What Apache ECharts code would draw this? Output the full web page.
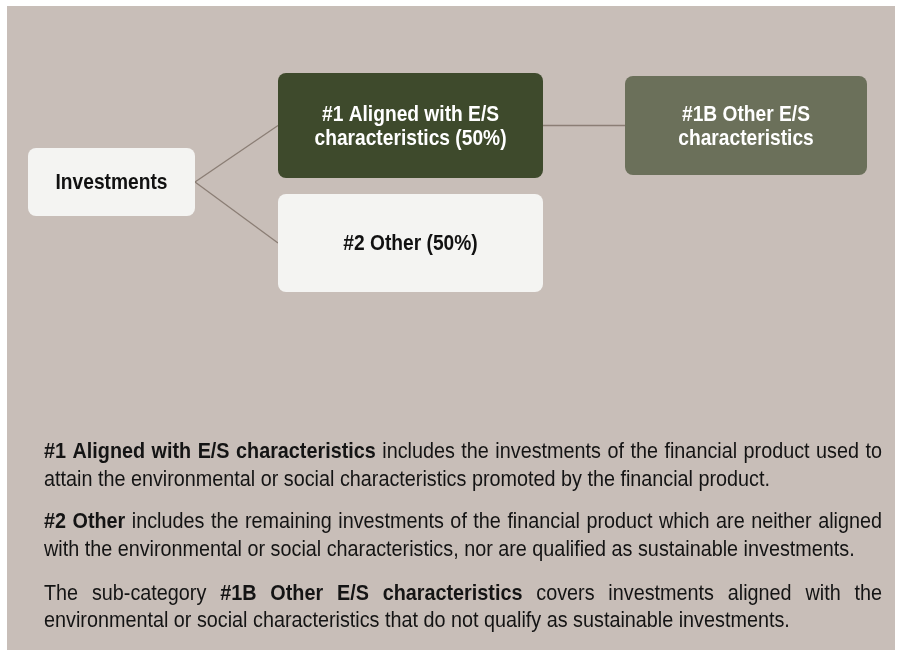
<!DOCTYPE html>
<html>
<head>
<meta charset="utf-8">
<script src="https://cdn.jsdelivr.net/npm/echarts@6/dist/echarts.min.js"></script>
<style>
    html, body { margin: 0; padding: 0; background: #ffffff; }
    #chart { width: 901px; height: 650px; }
</style>
</head>
<body>
<div id="chart"></div>
<script>
// 节点名称
var nodeNames = ['Investments', '#1 Aligned with E/S\ncharacteristics (50%)', '#2 Other (50%)', '#1B Other E/S\ncharacteristics'];
// 节点之间的连线 [源, 目标]
var links = [[0, 1], [0, 2], [1, 3]];
// 说明文字，每行一组 [文字, 是否加粗]
var notes = [
    [[['#1 Aligned with E/S characteristics', true], ['includes the investments of the financial product used to', false]],
     [['attain the environmental or social characteristics promoted by the financial product.', false]]],
    [[['#2 Other', true], ['includes the remaining investments of the financial product which are neither aligned', false]],
     [['with the environmental or social characteristics, nor are qualified as sustainable investments.', false]]],
    [[['The sub-category', false], ['#1B Other E/S characteristics', true], ['covers investments aligned with the', false]],
     [['environmental or social characteristics that do not qualify as sustainable investments.', false]]]
];

// 布局 (像素)
var boxes = [[28, 148, 195, 216], [278, 73, 543, 178], [278, 194, 543, 292], [625, 76, 867, 175]];
var boxColors = ['#f4f4f2', '#3e4a2c', '#f4f4f2', '#6b705a'];
var textColors = ['#111111', '#ffffff', '#111111', '#ffffff'];
var FONT = '"Liberation Sans", Arial, sans-serif';

var chart = echarts.init(document.getElementById('chart'));
var measure = document.createElement('canvas').getContext('2d');

// 窄体字：用 scaleX 压缩
var labelSize = 22;
measure.font = 'bold ' + labelSize + 'px ' + FONT;
var labelScale = 112 / measure.measureText('Investments').width;

var noteSize = 22;
measure.font = 'normal ' + noteSize + 'px ' + FONT;
var noteScale = 726 / measure.measureText(notes[0][1][0][0]).width;

// 连线数据
var linkData = links.map(function (l) {
    var s = boxes[l[0]], t = boxes[l[1]];
    return {coords: [[s[2], (s[1] + s[3]) / 2], [t[0], (t[1] + t[3]) / 2]]};
});

// 文字排版：两端对齐
var noteLeft = 44, noteRight = 882;
var lineY = [[452, 480], [522, 550], [594, 621]];
var noteGraphics = [];
notes.forEach(function (para, pi) {
    para.forEach(function (line, li) {
        var words = [];
        line.forEach(function (seg) {
            seg[0].split(' ').forEach(function (w) {
                measure.font = (seg[1] ? 'bold ' : 'normal ') + noteSize + 'px ' + FONT;
                words.push({text: w, bold: seg[1], width: measure.measureText(w).width * noteScale});
            });
        });
        measure.font = 'normal ' + noteSize + 'px ' + FONT;
        var space = measure.measureText(' ').width * noteScale;
        var total = words.reduce(function (a, w) { return a + w.width; }, 0);
        var justify = li < para.length - 1;
        var gap = justify ? (noteRight - noteLeft - total) / (words.length - 1) : space;
        var x = noteLeft;
        words.forEach(function (w) {
            noteGraphics.push({
                type: 'text',
                x: x,
                y: lineY[pi][li],
                scaleX: noteScale,
                style: {
                    text: w.text,
                    fill: '#141414',
                    font: (w.bold ? 'bold ' : 'normal ') + noteSize + 'px ' + FONT,
                    verticalAlign: 'middle'
                }
            });
            x += w.width + gap;
        });
    });
});

var option = {
    animation: false,
    grid: {left: 0, right: 0, top: 0, bottom: 0},
    xAxis: {type: 'value', min: 0, max: 901, show: false},
    yAxis: {type: 'value', min: 0, max: 650, inverse: true, show: false},
    graphic: [
        {type: 'rect', shape: {x: 7, y: 6, width: 888, height: 650}, style: {fill: '#c8beb8'}, z: -10}
    ].concat(noteGraphics),
    series: [
        {
            type: 'lines',
            coordinateSystem: 'cartesian2d',
            polyline: false,
            symbol: 'none',
            z: 1,
            lineStyle: {color: '#8b7e75', width: 1.3, opacity: 1},
            data: linkData
        },
        {
            type: 'custom',
            coordinateSystem: 'cartesian2d',
            z: 3,
            data: nodeNames.map(function (n, i) { return [boxes[i][0], boxes[i][1], boxes[i][2], boxes[i][3], i]; }),
            renderItem: function (params, api) {
                var i = api.value(4);
                var p1 = api.coord([api.value(0), api.value(1)]);
                var p2 = api.coord([api.value(2), api.value(3)]);
                return {
                    type: 'group',
                    children: [{
                        type: 'rect',
                        shape: {x: p1[0], y: p1[1], width: p2[0] - p1[0], height: p2[1] - p1[1], r: 8},
                        style: {fill: boxColors[i]}
                    }, {
                        type: 'text',
                        x: (p1[0] + p2[0]) / 2,
                        y: (p1[1] + p2[1]) / 2 + 1,
                        scaleX: labelScale,
                        style: {
                            text: nodeNames[i],
                            fill: textColors[i],
                            font: 'bold ' + labelSize + 'px ' + FONT,
                            lineHeight: 24,
                            align: 'center',
                            verticalAlign: 'middle'
                        }
                    }]
                };
            }
        }
    ]
};

chart.setOption(option);
</script>
</body>
</html>
